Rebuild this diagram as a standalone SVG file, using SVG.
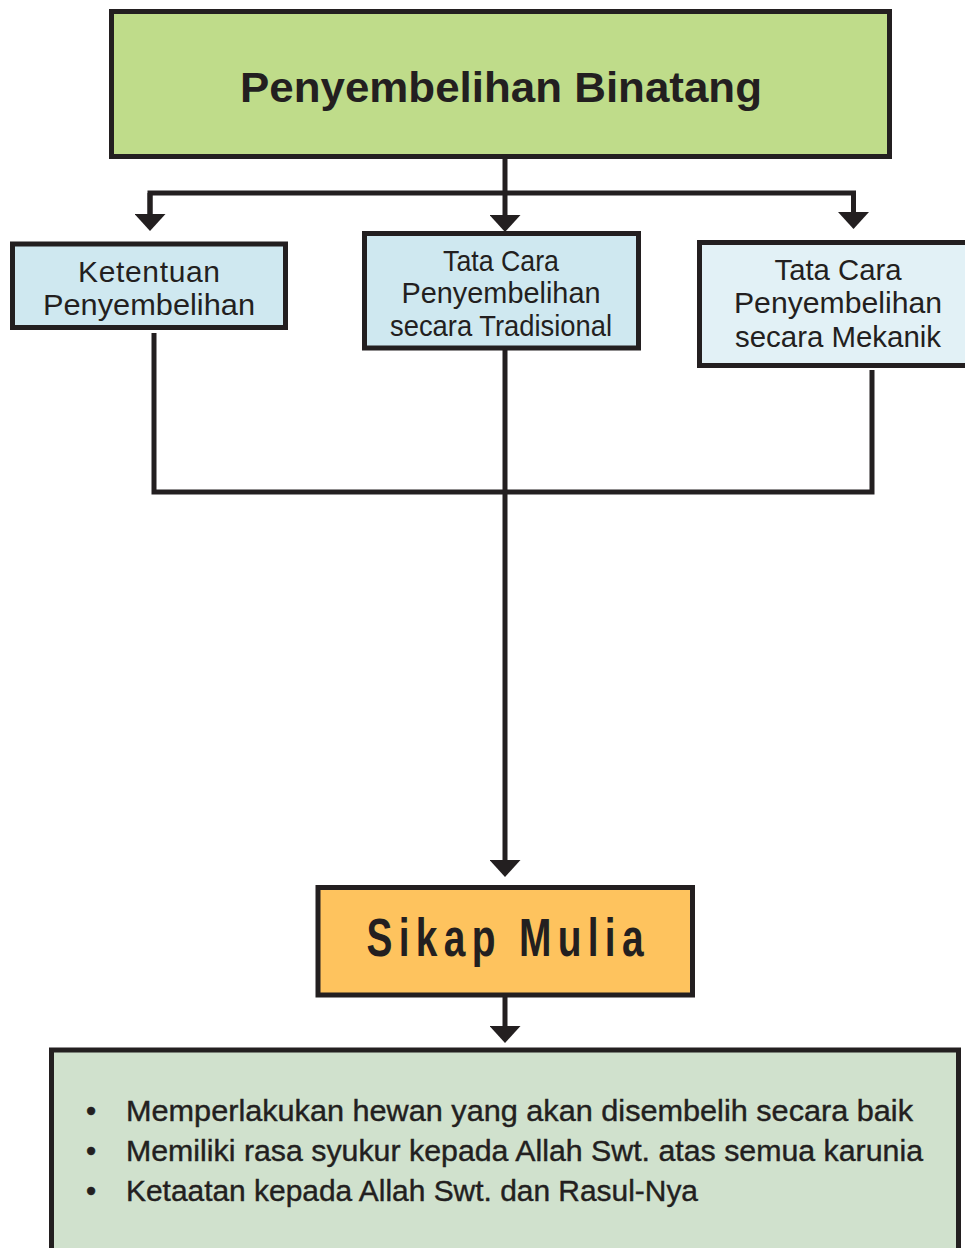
<svg xmlns="http://www.w3.org/2000/svg" width="965" height="1248" viewBox="0 0 965 1248">
  <style>
    .box { stroke: #231f20; stroke-width: 5; }
    .conn { fill: none; stroke: #231f20; stroke-width: 5; }
    .t { font-family: "Liberation Sans", Arial, sans-serif; fill: #231f20; }
    .lbl { font-size: 30px; text-anchor: middle; }
    .item { font-size: 29px; stroke: #231f20; stroke-width: 0.4; }
  </style>
  <defs>
    <marker id="arr" markerUnits="userSpaceOnUse" viewBox="0 0 17 31" markerWidth="17" markerHeight="31" refX="0" refY="15.5" orient="auto">
      <path d="M0,0 L17,15.5 L0,31 Z" fill="#231f20"/>
    </marker>
  </defs>
  <rect width="965" height="1248" fill="#ffffff"/>

  <g id="connectors">
    <path class="conn" d="M505,159 V215" marker-end="url(#arr)"/>
    <path class="conn" d="M150,214 V193 H853.5 V212" marker-end="url(#arr)"/>
    <path class="conn" d="M150,193 V214" marker-end="url(#arr)"/>
    <path class="conn" d="M154,333 V492 H872 V370"/>
    <path class="conn" d="M505,350 V860" marker-end="url(#arr)"/>
    <path class="conn" d="M505,997 V1026" marker-end="url(#arr)"/>
  </g>

  <g id="node-title">
    <rect class="box" x="111.5" y="11.5" width="778" height="145" fill="#bfdc8a"/>
    <text class="t" x="501" y="102" font-size="43" font-weight="bold" text-anchor="middle" textLength="522" lengthAdjust="spacingAndGlyphs">Penyembelihan Binatang</text>
  </g>

  <g id="node-ketentuan">
    <rect class="box" x="12.5" y="244" width="273" height="83.5" fill="#cfe8f0"/>
    <text class="t lbl" x="149" y="282" textLength="142">Ketentuan</text>
    <text class="t lbl" x="149" y="315" textLength="212" lengthAdjust="spacingAndGlyphs">Penyembelihan</text>
  </g>

  <g id="node-tradisional">
    <rect class="box" x="364.5" y="233.5" width="274" height="114.5" fill="#cfe8f0"/>
    <text class="t lbl" x="501" y="271" font-size="29" textLength="116" lengthAdjust="spacingAndGlyphs">Tata Cara</text>
    <text class="t lbl" x="501" y="303" font-size="29" textLength="199" lengthAdjust="spacingAndGlyphs">Penyembelihan</text>
    <text class="t lbl" x="501" y="336" font-size="29" textLength="222" lengthAdjust="spacingAndGlyphs">secara Tradisional</text>
  </g>

  <g id="node-mekanik">
    <rect class="box" x="699.5" y="242.5" width="290" height="123" fill="#e2f1f6"/>
    <text class="t lbl" x="838" y="280" textLength="127" lengthAdjust="spacingAndGlyphs">Tata Cara</text>
    <text class="t lbl" x="838" y="313" textLength="208" lengthAdjust="spacingAndGlyphs">Penyembelihan</text>
    <text class="t lbl" x="838" y="347" textLength="206" lengthAdjust="spacingAndGlyphs">secara Mekanik</text>
  </g>

  <g id="node-sikap">
    <rect class="box" x="318" y="887.5" width="374.5" height="107.5" fill="#fec35e"/>
    <text class="t" transform="translate(505,956) scale(0.72,1)" x="0" y="0" font-size="54" font-weight="bold" text-anchor="middle" textLength="385" lengthAdjust="spacing">Sikap Mulia</text>
  </g>

  <g id="node-list">
    <rect class="box" x="51.5" y="1050" width="907" height="220" fill="#d0e1cd"/>
    <text class="t item" x="91" y="1121" text-anchor="middle">•</text>
    <text class="t item" x="91" y="1161" text-anchor="middle">•</text>
    <text class="t item" x="91" y="1201" text-anchor="middle">•</text>
    <text class="t item" x="126" y="1121" textLength="787" lengthAdjust="spacingAndGlyphs">Memperlakukan hewan yang akan disembelih secara baik</text>
    <text class="t item" x="126" y="1161" textLength="797" lengthAdjust="spacingAndGlyphs">Memiliki rasa syukur kepada Allah Swt. atas semua karunia</text>
    <text class="t item" x="126" y="1201" textLength="572" lengthAdjust="spacingAndGlyphs">Ketaatan kepada Allah Swt. dan Rasul-Nya</text>
  </g>
</svg>
